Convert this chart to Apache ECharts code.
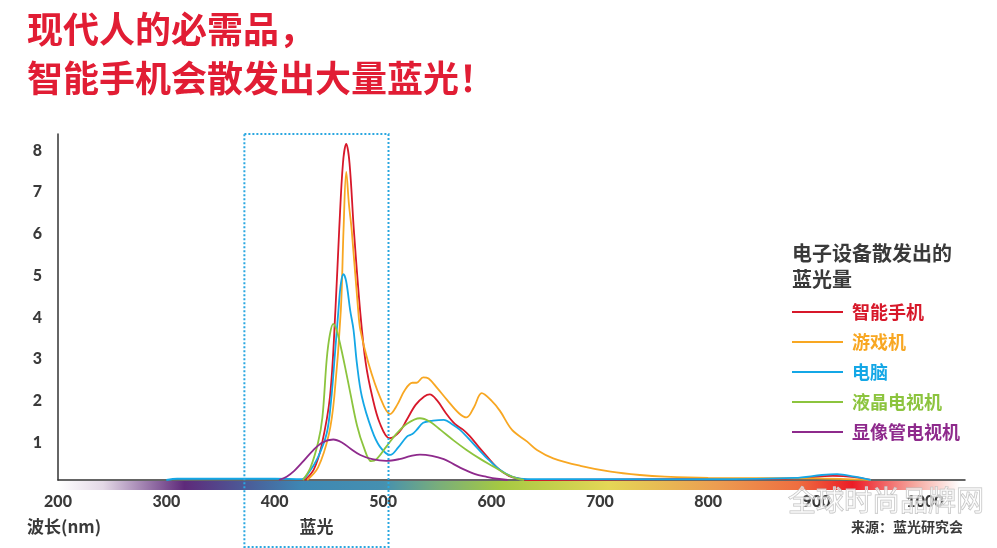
<!DOCTYPE html>
<html>
<head>
<meta charset="utf-8">
<style>
  html, body { margin: 0; padding: 0; background: #ffffff; }
  #chart { width: 997px; height: 548px; }
</style>
<script src="https://cdn.jsdelivr.net/npm/echarts@6/dist/echarts.min.js"></script>
</head>
<body>
<div id="chart"></div>
<script>
// Emission spectra: [wavelength (nm), relative intensity]
const PHONE = [
  [428, 0], [436, 0.25], [443, 0.8], [451, 2.0], [456, 4.07], [459.5, 6.0], [463, 7.6],
  [466, 8.05], [469, 7.6], [473, 6.0], [479, 4.0], [484, 2.8], [490, 2.0], [497, 1.36],
  [506, 1.0], [515, 1.15], [522, 1.45], [530, 1.8], [538, 2.0], [543, 2.05], [550, 1.9],
  [558, 1.6], [566, 1.35], [574, 1.2], [580, 1.05], [588, 0.8], [596, 0.56], [606, 0.28],
  [616, 0.1], [626, 0.03], [636, 0], [760, 0.02], [880, 0.04], [915, 0.1], [935, 0.07], [950, 0]
];
const CONSOLE = [
  [430, 0], [440, 0.3], [450, 1.1], [455, 2.0], [461, 4.07], [463.5, 6.0], [466, 7.38],
  [468.5, 6.6], [471, 6.0], [477, 4.07], [479, 3.6], [486.5, 2.8], [497, 2.0], [506.5, 1.58],
  [513, 1.8], [520, 2.15], [527, 2.33], [531, 2.33], [537, 2.46], [542, 2.43], [550, 2.2],
  [559, 1.92], [570, 1.6], [577, 1.5], [584, 1.75], [591, 2.08], [600, 1.9], [608, 1.65],
  [619, 1.2], [633, 0.92], [642, 0.72], [657, 0.52], [682, 0.34], [710, 0.2], [737, 0.12],
  [760, 0.08], [800, 0.05], [900, 0.04], [950, 0]
];
const COMPUTER = [
  [300, 0], [310, 0.03], [400, 0.03], [425, 0.02], [432, 0.2], [440, 0.55], [448, 1.12],
  [452, 1.9], [455.5, 3.0], [458.8, 4.07], [461, 4.7], [463.4, 4.93], [466, 4.75],
  [469.6, 4.07], [472.7, 3.6], [475.8, 2.8], [480.4, 2.0], [489.6, 1.2], [497, 0.8],
  [506.6, 0.6], [514, 0.78], [522, 1.04], [527, 1.1], [531, 1.2], [537, 1.37], [546, 1.42],
  [556, 1.44], [564, 1.33], [571, 1.2], [584, 0.85], [596, 0.52], [608, 0.24], [620, 0.07],
  [633, 0.02], [700, 0.02], [800, 0.02], [880, 0.05], [905, 0.12], [919, 0.14], [935, 0.08], [950, 0]
];
const LCD_TV = [
  [426, 0], [433, 0.3], [440, 0.9], [444, 1.5], [448, 2.9], [451, 3.5], [454, 3.74],
  [457, 3.6], [460, 3.3], [465, 2.7], [470, 2.05], [476, 1.3], [482, 0.8], [489, 0.45],
  [494, 0.5], [503, 0.8], [512, 1.1], [522, 1.35], [534, 1.48], [543, 1.4], [553, 1.2],
  [565, 0.95], [577, 0.72], [590, 0.5], [602, 0.32], [613, 0.15], [623, 0.04], [630, 0]
];
const CRT_TV = [
  [404, 0], [411, 0.08], [418, 0.22], [426, 0.44], [435, 0.7], [444, 0.9], [454, 0.97],
  [462, 0.9], [470, 0.75], [479, 0.6], [490, 0.5], [503, 0.46], [515, 0.5], [525, 0.57],
  [534, 0.61], [545, 0.58], [556, 0.5], [565, 0.38], [574, 0.26], [585, 0.14], [595, 0.08],
  [605, 0.03], [615, 0]
];

const SERIES_NAMES = ['智能手机', '游戏机', '电脑', '液晶电视机', '显像管电视机'];
const SERIES_COLORS = ['#d7182a', '#f8a722', '#14a7e6', '#8cc43e', '#8e2a8c'];
const SERIES_DATA = [PHONE, CONSOLE, COMPUTER, LCD_TV, CRT_TV];

const X_MIN = 200, X_MAX = 1037, X_STEP = 100;
const Y_MIN = 0, Y_MAX = 8.29, Y_STEP = 1;
const BLUE_BAND = [372, 505];          // highlighted blue-light wavelength band
const SPECTRUM_RANGE = [200, 1033];    // colour strip under the wavelength axis

const CJK = '"Noto Sans CJK SC", "Noto Sans", sans-serif';
const NUM = 'Lato, "Noto Sans", sans-serif';

const chart = echarts.init(document.getElementById('chart'), null, { renderer: 'canvas' });

const option = {
  backgroundColor: '#ffffff',
  animation: false,
  title: {
    text: '现代人的必需品，\n智能手机会散发出大量蓝光！',
    left: 22,
    top: 0,
    textStyle: {
      color: '#e11d34',
      fontFamily: CJK,
      fontSize: 36,
      fontWeight: 'bold',
      lineHeight: 49
    }
  },
  legend: {
    orient: 'vertical',
    left: 787,
    top: 298,
    icon: 'rect',
    itemWidth: 51,
    itemHeight: 2,
    itemGap: 12,
    selectedMode: false,
    data: SERIES_NAMES.map((n, i) => ({
      name: n,
      textStyle: { color: SERIES_COLORS[i] }
    })),
    textStyle: {
      fontFamily: CJK,
      fontSize: 18,
      fontWeight: 'bold',
      padding: [0, 0, 0, 4]
    }
  },
  grid: { left: 58, top: 134, right: 32, bottom: 68, containLabel: false },
  xAxis: {
    type: 'value',
    min: X_MIN,
    max: X_MAX,
    interval: X_STEP,
    axisLine: { show: true, lineStyle: { color: '#333333', width: 1.5 } },
    axisTick: { show: false },
    splitLine: { show: false },
    axisLabel: {
      margin: 14,
      color: '#3a3a3a',
      fontFamily: NUM,
      fontSize: 16,
      fontWeight: 900,
      showMaxLabel: false,
      formatter: v => (v % 100 === 0 ? String(v) : '')
    }
  },
  yAxis: {
    type: 'value',
    min: Y_MIN,
    max: Y_MAX,
    interval: Y_STEP,
    axisLine: { show: true, lineStyle: { color: '#333333', width: 1.5 } },
    axisTick: { show: false },
    splitLine: { show: false },
    axisLabel: {
      margin: 16,
      verticalAlign: 'top',
      lineHeight: 9,
      color: '#3a3a3a',
      fontFamily: NUM,
      fontSize: 16,
      fontWeight: 900,
      showMinLabel: false,
      formatter: v => (Number.isInteger(v) && v > 0 ? String(v) : '')
    }
  },
  series: SERIES_NAMES.map((n, i) => ({
    name: n,
    type: 'line',
    data: SERIES_DATA[i],
    smooth: 0.35,
    showSymbol: false,
    symbol: 'none',
    color: SERIES_COLORS[i],
    lineStyle: { width: 1.8, color: SERIES_COLORS[i] },
    z: 3
  }))
};

chart.setOption(option);

// Decorations placed through the axis scales
const px = v => chart.convertToPixel({ xAxisIndex: 0 }, v);
const py = v => chart.convertToPixel({ yAxisIndex: 0 }, v);

const axisY = py(0);
const topY = py(Y_MAX);
const bandL = px(BLUE_BAND[0]);
const bandR = px(BLUE_BAND[1]);
const specL = px(SPECTRUM_RANGE[0]);
const specR = px(SPECTRUM_RANGE[1]);

chart.setOption({
  graphic: [
    {
      type: 'rect',
      z: 1,
      shape: { x: specL, y: axisY + 1, width: specR - specL, height: 9 },
      style: {
        fill: new echarts.graphic.LinearGradient(0, 0, 1, 0, [
          { offset: 0.00, color: '#ffffff' },
          { offset: 0.05, color: '#e3d8e6' },
          { offset: 0.14, color: '#5e2a7a' },
          { offset: 0.22, color: '#48649d' },
          { offset: 0.27, color: '#3e87b3' },
          { offset: 0.36, color: '#4590b0' },
          { offset: 0.42, color: '#78ad7c' },
          { offset: 0.49, color: '#a5c942' },
          { offset: 0.61, color: '#e5d656' },
          { offset: 0.73, color: '#ec9d51' },
          { offset: 0.82, color: '#ee6e40' },
          { offset: 0.88, color: '#ec1c26' },
          { offset: 0.95, color: '#f6aaa1' },
          { offset: 1.00, color: '#ffffff' }
        ])
      }
    },
    {
      type: 'rect',
      z: 10,
      shape: { x: bandL, y: topY, width: bandR - bandL, height: 547 - topY },
      style: { fill: 'none', stroke: '#2aa7e0', lineWidth: 2, lineDash: [2, 2] }
    },
    {
      type: 'text',
      z: 10,
      x: (bandL + bandR) / 2,
      y: 527,
      style: {
        text: '蓝光',
        align: 'center',
        verticalAlign: 'middle',
        fill: '#3a3a3a',
        font: 'bold 17px ' + CJK
      }
    },
    {
      type: 'text',
      z: 10,
      x: 27,
      y: 527,
      style: {
        text: '波长(nm)',
        align: 'left',
        verticalAlign: 'middle',
        fill: '#3a3a3a',
        font: 'bold 17px ' + CJK
      }
    },
    {
      type: 'text',
      z: 10,
      x: 792,
      y: 240,
      style: {
        text: '电子设备散发出的\n蓝光量',
        align: 'left',
        verticalAlign: 'top',
        fill: '#3a3a3a',
        lineHeight: 26,
        font: 'bold 20px ' + CJK
      }
    },
    {
      type: 'text',
      z: 20,
      x: 886,
      y: 500,
      style: {
        text: '全球时尚品牌网',
        align: 'center',
        verticalAlign: 'middle',
        fill: 'rgba(255,255,255,0.55)',
        stroke: '#bdbdbd',
        lineWidth: 1,
        font: '28px ' + CJK
      }
    },
    {
      type: 'text',
      z: 21,
      x: 963,
      y: 527,
      style: {
        text: '来源：蓝光研究会',
        align: 'right',
        verticalAlign: 'middle',
        fill: '#3a3a3a',
        font: 'bold 14px ' + CJK
      }
    }
  ]
});
</script>
</body>
</html>
